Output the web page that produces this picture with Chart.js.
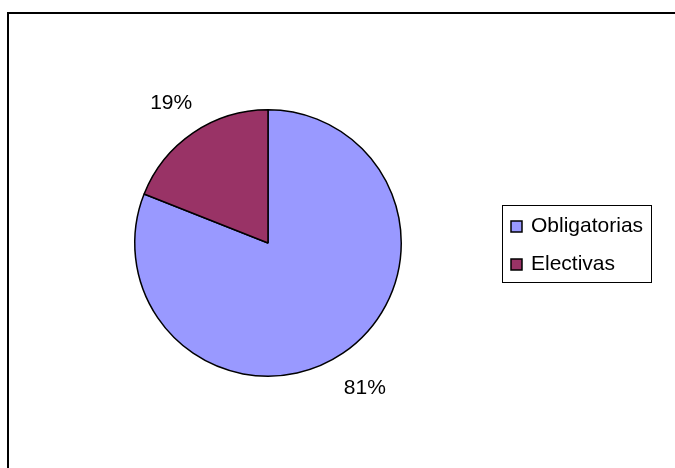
<!DOCTYPE html>
<html>
<head>
<meta charset="utf-8">
<script src="https://cdn.jsdelivr.net/npm/chart.js@4"></script>
<style>
  html, body { margin: 0; padding: 0; background: #fff; }
  #wrap { width: 675px; height: 468px; position: relative; }
</style>
</head>
<body>
<div id="wrap"><canvas id="chart" width="675" height="468"></canvas></div>
<script>
// categories and their shares (percent)
const labels = ['Obligatorias', 'Electivas'];
const values = [81, 19];
const colors = ['#9999FF', '#993366'];

const FONT = '21px "Liberation Sans", Arial, sans-serif';

// frame around the chart (only top and left edges are visible)
const framePlugin = {
  id: 'frame',
  beforeDraw(chart) {
    const ctx = chart.ctx;
    ctx.save();
    ctx.strokeStyle = '#000';
    ctx.lineWidth = 2;
    ctx.beginPath();
    ctx.moveTo(8, 468);
    ctx.lineTo(8, 13);
    ctx.lineTo(675, 13);
    ctx.stroke();
    ctx.restore();
  }
};

// percentage labels outside each slice
const pctPlugin = {
  id: 'pct',
  afterDatasetsDraw(chart) {
    const ctx = chart.ctx;
    const meta = chart.getDatasetMeta(0);
    const total = values.reduce((a, b) => a + b, 0);
    ctx.save();
    ctx.font = FONT;
    ctx.fillStyle = '#000';
    ctx.textAlign = 'center';
    ctx.textBaseline = 'middle';
    meta.data.forEach((arc, i) => {
      const mid = (arc.startAngle + arc.endAngle) / 2;
      const r = arc.outerRadius + 39;
      const x = arc.x + Math.cos(mid) * r;
      const y = arc.y + Math.sin(mid) * r + 3;
      ctx.fillText(Math.round(values[i] / total * 100) + '%', x, y);
    });
    ctx.restore();
  }
};

// boxed legend on the right
const legendPlugin = {
  id: 'boxLegend',
  afterDraw(chart) {
    const ctx = chart.ctx;
    const bx = 502, by = 205, bw = 149, bh = 77;
    ctx.save();
    ctx.strokeStyle = '#000';
    ctx.lineWidth = 1;
    ctx.strokeRect(bx + 0.5, by + 0.5, bw, bh);
    ctx.font = FONT;
    ctx.textBaseline = 'middle';
    labels.forEach((lab, i) => {
      const cy = 225 + i * 38;
      ctx.fillStyle = colors[i];
      ctx.fillRect(511, cy - 4, 11, 11);
      ctx.strokeStyle = '#000';
      ctx.lineWidth = 1.5;
      ctx.strokeRect(511, cy - 4, 11, 11);
      ctx.fillStyle = '#000';
      ctx.fillText(lab, 531, cy + 1);
    });
    ctx.restore();
  }
};

new Chart(document.getElementById('chart'), {
  type: 'pie',
  data: {
    labels: labels,
    datasets: [{
      data: values,
      backgroundColor: colors,
      borderColor: '#000',
      borderWidth: 1.5
    }]
  },
  options: {
    responsive: false,
    animation: false,
    layout: { padding: { left: 134, right: 273, top: 109, bottom: 91 } },
    plugins: {
      legend: { display: false },
      tooltip: { enabled: false }
    }
  },
  plugins: [framePlugin, pctPlugin, legendPlugin]
});
</script>
</body>
</html>
